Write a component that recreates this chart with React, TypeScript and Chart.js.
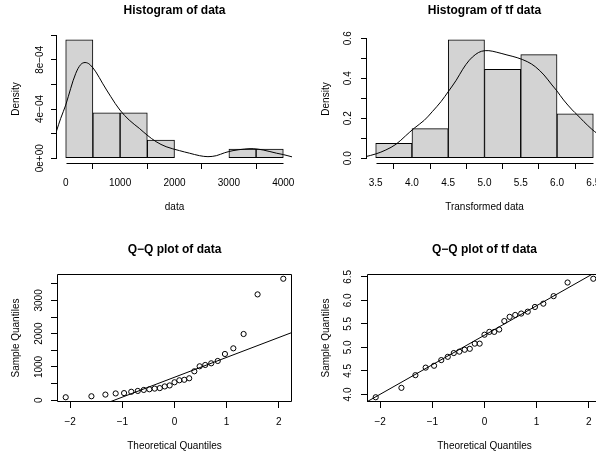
import { useEffect, useRef } from 'react';
import { Chart, registerables } from 'chart.js';

Chart.register(...registerables);

const FONT = '"Liberation Sans", Arial, Helvetica, sans-serif';
const INK = '#000000';
const BAR_FILL = '#D3D3D3';

// ---------- Panel 1: Histogram of data ----------
const dataBinCenters = [250, 750, 1250, 1750, 2250, 2750, 3250, 3750];
const dataBinDensity = [9.63e-4, 3.7e-4, 3.7e-4, 1.48e-4, 0, 0, 7.4e-5, 7.4e-5];
const dataDensX = [-170, -92, 0, 92, 185, 277, 356, 443, 554, 676, 830, 996, 1168, 1353, 1495, 1661, 1846, 2092, 2277, 2461, 2615, 2769, 2923, 3076, 3292, 3446, 3630, 3877, 4000, 4172];
const dataDensY = [2.2e-4, 3.24e-4, 4.32e-4, 5.68e-4, 6.9e-4, 7.62e-4, 7.78e-4, 7.62e-4, 7.02e-4, 6.1e-4, 5.0e-4, 3.92e-4, 3.1e-4, 2.43e-4, 1.89e-4, 1.35e-4, 9.4e-5, 6.2e-5, 4.1e-5, 2.1e-5, 1.3e-5, 2.1e-5, 4.5e-5, 6.2e-5, 7.5e-5, 7.8e-5, 6.7e-5, 4.1e-5, 3.0e-5, 1.0e-5];
const dataHistXRange = [-160, 4160];
const dataHistYRange = [-3.85e-5, 1.0015e-3];
const dataHistXTicks = [0, 1000, 2000, 3000, 4000];
const dataHistXTickLabels = ['0', '1000', '2000', '3000', '4000'];
const dataHistYTicks = [0, 2e-4, 4e-4, 6e-4, 8e-4, 1e-3];
const dataHistYTickLabels = ['0e+00', '', '4e\u221204', '', '8e\u221204', ''];

// ---------- Panel 2: Histogram of tf data ----------
const tfBinCenters = [3.75, 4.25, 4.75, 5.25, 5.75, 6.25];
const tfBinDensity = [0.0741, 0.1481, 0.5926, 0.4444, 0.5185, 0.2222];
const tfDensX = [3.36, 3.5, 3.64, 3.78, 3.91, 4.03, 4.17, 4.28, 4.4, 4.5, 4.61, 4.7, 4.79, 4.88, 4.96, 5.06, 5.17, 5.31, 5.45, 5.59, 5.7, 5.82, 5.93, 6.0, 6.09, 6.21, 6.28, 6.37, 6.48, 6.55, 6.63];
const tfDensY = [0.008, 0.0215, 0.0415, 0.07, 0.1115, 0.15, 0.19, 0.233, 0.283, 0.333, 0.39, 0.445, 0.49, 0.52, 0.535, 0.538, 0.53, 0.5165, 0.503, 0.483, 0.458, 0.4165, 0.3665, 0.336, 0.2915, 0.2415, 0.2165, 0.183, 0.145, 0.125, 0.105];
const tfHistXRange = [3.38, 6.62];
const tfHistYRange = [-0.0237, 0.6163];
const tfHistXTicks = [3.5, 4.0, 4.5, 5.0, 5.5, 6.0, 6.5];
const tfHistXTickLabels = ['3.5', '4.0', '4.5', '5.0', '5.5', '6.0', '6.5'];
const tfHistYTicks = [0, 0.1, 0.2, 0.3, 0.4, 0.5, 0.6];
const tfHistYTickLabels = ['0.0', '', '0.2', '', '0.4', '', '0.6'];

// ---------- Panels 3 & 4: Q-Q plots ----------
const theoreticalQuantiles = [-2.086, -1.593, -1.325, -1.128, -0.967, -0.829, -0.704, -0.589, -0.482, -0.38, -0.282, -0.187, -0.093, 0, 0.093, 0.187, 0.282, 0.38, 0.482, 0.589, 0.704, 0.829, 0.967, 1.128, 1.325, 1.593, 2.086];
const dataSorted = [90, 120, 170, 205, 215, 255, 280, 310, 330, 350, 365, 415, 445, 540, 600, 615, 660, 870, 1020, 1060, 1110, 1180, 1390, 1560, 1990, 3180, 3650];
const tfSorted = [3.94, 4.14, 4.41, 4.57, 4.61, 4.73, 4.8, 4.88, 4.91, 4.95, 4.97, 5.08, 5.08, 5.27, 5.33, 5.33, 5.38, 5.56, 5.65, 5.69, 5.72, 5.76, 5.86, 5.93, 6.09, 6.38, 6.46];
const dataQQLineX = [-1.25, 2.26];
const dataQQLineY = [-55, 2040];
const tfQQLineX = [-2.26, 2.08];
const tfQQLineY = [3.84, 6.566];
const qqXRange = [-2.253, 2.253];
const dataQQYRange = [-52.4, 3792.4];
const tfQQYRange = [3.839, 6.561];
const qqXTicks = [-2, -1, 0, 1, 2];
const qqXTickLabels = ['\u22122', '\u22121', '0', '1', '2'];
const dataQQYTicks = [0, 500, 1000, 1500, 2000, 2500, 3000, 3500];
const dataQQYTickLabels = ['0', '', '1000', '', '2000', '', '3000', ''];
const tfQQYTicks = [4.0, 4.5, 5.0, 5.5, 6.0, 6.5];
const tfQQYTickLabels = ['4.0', '4.5', '5.0', '5.5', '6.0', '6.5'];

// ---------- geometry ----------
const W = 310;
const H = 239;
const PLOT_L = 57;
const PLOT_R = 292;
const PLOT_B = 163;
const TICK_LEN = 6;

const pts = (xs: number[], ys: number[]) => xs.map((x, i) => ({ x, y: ys[i] }));

const rFrame = {
  id: 'rFrame',
  afterDatasetsDraw(chart: any, _args: any, opts: any) {
    const { ctx, chartArea: a, scales } = chart;
    const xs = scales.x;
    const ys = scales.y;
    ctx.save();
    ctx.strokeStyle = INK;
    ctx.lineWidth = 1;
    ctx.beginPath();
    if (opts.boxed) {
      const l = Math.round(a.left) + 0.5;
      const t = Math.round(a.top) + 0.5;
      const r = Math.round(a.right) - 0.5;
      const b = Math.round(a.bottom) - 0.5;
      ctx.rect(l, t, r - l, b - t);
    } else {
      const xt = xs.ticks;
      const yt = ys.ticks;
      const yb = Math.round(a.bottom) + 0.5;
      ctx.moveTo(Math.round(xs.getPixelForValue(xt[0].value)) + 0.5, yb);
      ctx.lineTo(Math.round(xs.getPixelForValue(xt[xt.length - 1].value)) + 0.5, yb);
      const xl = Math.round(a.left) - 0.5;
      ctx.moveTo(xl, Math.round(ys.getPixelForValue(yt[0].value)) + 0.5);
      ctx.lineTo(xl, Math.round(ys.getPixelForValue(yt[yt.length - 1].value)) + 0.5);
    }
    ctx.stroke();
    ctx.restore();
  },
};

type Spec = {
  title: string;
  xTitle: string;
  yTitle: string;
  xRange: number[];
  yRange: number[];
  xTicks: number[];
  xTickLabels: string[];
  yTicks: number[];
  yTickLabels: string[];
  datasets: any[];
  boxed: boolean;
  yLabelGap: number;
};

function widest(labels: string[]) {
  const c = document.createElement('canvas').getContext('2d')!;
  c.font = `10px ${FONT}`;
  return Math.max(...labels.map((l) => c.measureText(l).width));
}

function buildConfig(spec: Spec): any {
  const yPad = spec.yLabelGap - TICK_LEN - widest(spec.yTickLabels) / 2;
  const tickFont = { family: FONT, size: 10 };
  const zeroPad = (s: any) => {
    s.paddingLeft = 0;
    s.paddingRight = 0;
    s.paddingTop = 0;
    s.paddingBottom = 0;
  };
  return {
    type: 'scatter',
    data: { datasets: spec.datasets },
    options: {
      animation: false,
      responsive: false,
      devicePixelRatio: 1,
      events: [],
      layout: { autoPadding: false, padding: { left: 0, top: 0, right: W - PLOT_R, bottom: 0 } },
      plugins: {
        legend: { display: false },
        tooltip: { enabled: false },
        title: {
          display: true,
          text: spec.title,
          fullSize: false,
          color: INK,
          font: { family: FONT, size: 12, weight: 'bold' },
          padding: { top: 3.6, bottom: 17 },
        },
        rFrame: { boxed: spec.boxed },
      },
      scales: {
        x: {
          type: 'linear',
          position: 'bottom',
          min: spec.xRange[0],
          max: spec.xRange[1],
          offset: false,
          afterBuildTicks: (s: any) => {
            s.ticks = spec.xTicks.map((v) => ({ value: v }));
          },
          afterFit: (s: any) => {
            s.height = H - PLOT_B;
            zeroPad(s);
          },
          grid: { display: true, drawOnChartArea: false, drawTicks: true, tickLength: TICK_LEN, color: INK, lineWidth: 1 },
          border: { display: false },
          ticks: {
            autoSkip: false,
            minRotation: 0,
            maxRotation: 0,
            padding: 8,
            color: INK,
            font: tickFont,
            callback: (_v: any, i: number) => spec.xTickLabels[i],
          },
          title: { display: true, text: spec.xTitle, color: INK, font: tickFont, padding: { top: 0, bottom: 25.5 } },
        },
        y: {
          type: 'linear',
          position: 'left',
          min: spec.yRange[0],
          max: spec.yRange[1],
          afterBuildTicks: (s: any) => {
            s.ticks = spec.yTicks.map((v) => ({ value: v }));
          },
          afterFit: (s: any) => {
            s.width = PLOT_L;
            zeroPad(s);
          },
          grid: { display: true, drawOnChartArea: false, drawTicks: true, tickLength: TICK_LEN, color: INK, lineWidth: 1 },
          border: { display: false },
          ticks: {
            autoSkip: false,
            minRotation: 90,
            maxRotation: 90,
            crossAlign: 'center',
            padding: yPad,
            color: INK,
            font: tickFont,
            callback: (_v: any, i: number) => spec.yTickLabels[i],
          },
          title: { display: true, text: spec.yTitle, color: INK, font: tickFont, padding: { top: 10, bottom: 0 } },
        },
      },
    },
    plugins: [rFrame],
  };
}

function histDatasets(centers: number[], dens: number[], dx: number[], dy: number[]) {
  return [
    {
      type: 'line',
      data: pts(dx, dy),
      borderColor: INK,
      borderWidth: 1,
      pointRadius: 0,
      tension: 0.35,
      fill: false,
      order: 1,
    },
    {
      type: 'bar',
      data: pts(centers, dens),
      backgroundColor: BAR_FILL,
      borderColor: INK,
      borderWidth: 1,
      borderSkipped: false,
      barPercentage: 1,
      categoryPercentage: 1,
      order: 2,
    },
  ];
}

function qqDatasets(sample: number[], lx: number[], ly: number[]) {
  return [
    {
      type: 'line',
      data: pts(lx, ly),
      borderColor: INK,
      borderWidth: 1,
      pointRadius: 0,
      fill: false,
      order: 1,
    },
    {
      type: 'scatter',
      data: pts(theoreticalQuantiles, sample),
      pointRadius: 2.6,
      pointBorderWidth: 1,
      pointBorderColor: INK,
      pointBackgroundColor: 'rgba(0,0,0,0)',
      showLine: false,
      order: 2,
    },
  ];
}

const specs: { left: number; top: number; spec: Spec }[] = [
  {
    left: 0,
    top: 0,
    spec: {
      title: 'Histogram of data',
      xTitle: 'data',
      yTitle: 'Density',
      xRange: dataHistXRange,
      yRange: dataHistYRange,
      xTicks: dataHistXTicks,
      xTickLabels: dataHistXTickLabels,
      yTicks: dataHistYTicks,
      yTickLabels: dataHistYTickLabels,
      datasets: histDatasets(dataBinCenters, dataBinDensity, dataDensX, dataDensY),
      boxed: false,
      yLabelGap: 17,
    },
  },
  {
    left: 310,
    top: 0,
    spec: {
      title: 'Histogram of tf data',
      xTitle: 'Transformed data',
      yTitle: 'Density',
      xRange: tfHistXRange,
      yRange: tfHistYRange,
      xTicks: tfHistXTicks,
      xTickLabels: tfHistXTickLabels,
      yTicks: tfHistYTicks,
      yTickLabels: tfHistYTickLabels,
      datasets: histDatasets(tfBinCenters, tfBinDensity, tfDensX, tfDensY),
      boxed: false,
      yLabelGap: 19,
    },
  },
  {
    left: 0,
    top: 239,
    spec: {
      title: 'Q\u2212Q plot of data',
      xTitle: 'Theoretical Quantiles',
      yTitle: 'Sample Quantiles',
      xRange: qqXRange,
      yRange: dataQQYRange,
      xTicks: qqXTicks,
      xTickLabels: qqXTickLabels,
      yTicks: dataQQYTicks,
      yTickLabels: dataQQYTickLabels,
      datasets: qqDatasets(dataSorted, dataQQLineX, dataQQLineY),
      boxed: true,
      yLabelGap: 18,
    },
  },
  {
    left: 310,
    top: 239,
    spec: {
      title: 'Q\u2212Q plot of tf data',
      xTitle: 'Theoretical Quantiles',
      yTitle: 'Sample Quantiles',
      xRange: qqXRange,
      yRange: tfQQYRange,
      xTicks: qqXTicks,
      xTickLabels: qqXTickLabels,
      yTicks: tfQQYTicks,
      yTickLabels: tfQQYTickLabels,
      datasets: qqDatasets(tfSorted, tfQQLineX, tfQQLineY),
      boxed: true,
      yLabelGap: 19,
    },
  },
];

function Panel({ spec, left, top }: { spec: Spec; left: number; top: number }) {
  const ref = useRef<HTMLCanvasElement>(null);
  useEffect(() => {
    const canvas = ref.current;
    if (!canvas) return;
    const chart = new Chart(canvas, buildConfig(spec));
    return () => chart.destroy();
  }, [spec]);
  return (
    <canvas
      ref={ref}
      width={W}
      height={H}
      style={{ position: 'absolute', left, top, width: W, height: H, display: 'block' }}
    />
  );
}

export default function App() {
  Chart.defaults.font.family = FONT;
  Chart.defaults.color = INK;
  return (
    <div
      style={{
        position: 'fixed',
        left: 0,
        top: 0,
        width: 596,
        height: 457,
        overflow: 'hidden',
        background: '#ffffff',
      }}
    >
      {specs.map((p, i) => (
        <Panel key={i} spec={p.spec} left={p.left} top={p.top} />
      ))}
    </div>
  );
}
